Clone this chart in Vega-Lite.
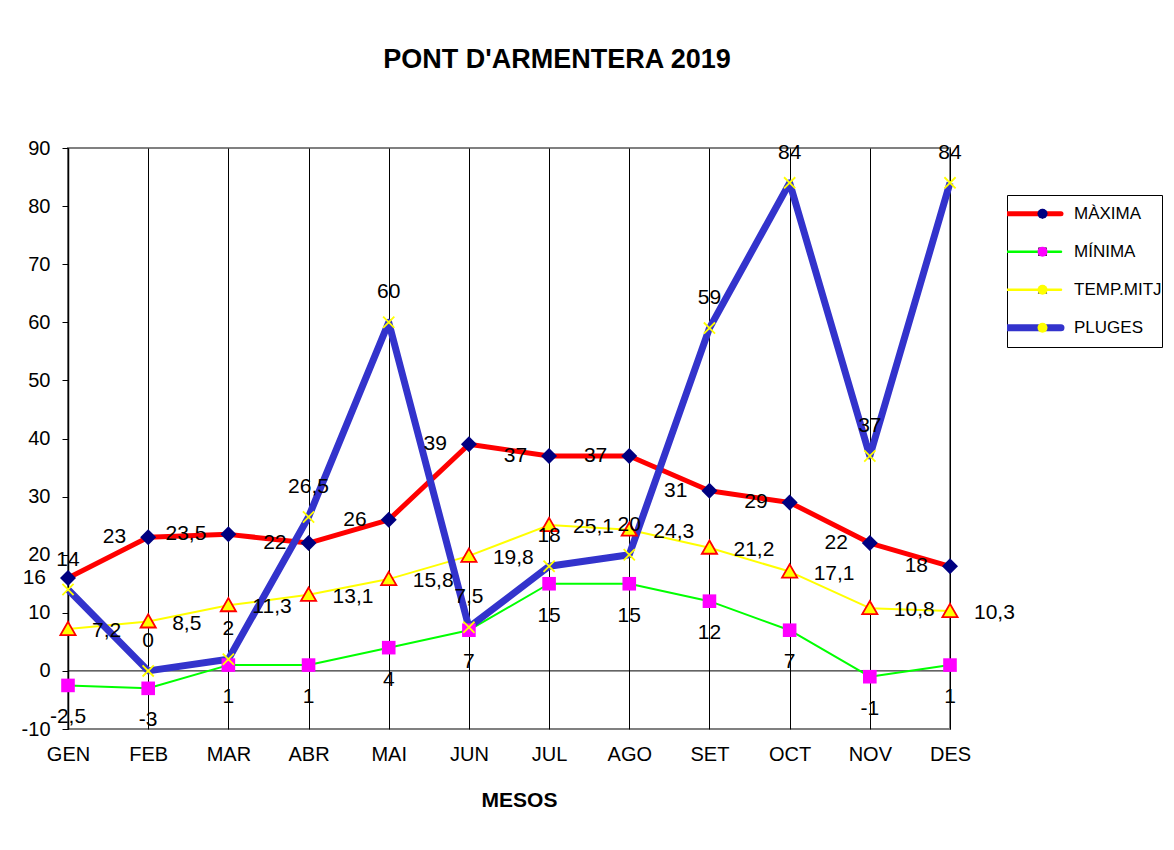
{
  "$schema": "https://vega.github.io/schema/vega-lite/v6.json",
  "width": 882,
  "height": 581,
  "autosize": "none",
  "padding": {"left": 68, "top": 148, "right": 224, "bottom": 121},
  "background": "white",
  "title": {"text": "PONT D'ARMENTERA 2019", "fontSize": 27, "fontWeight": "bold", "font": "Liberation Sans", "color": "black", "anchor": "middle", "dx": 48, "offset": 64},
  "data": {"values": [
    {"mes": "GEN", "serie": "MÀXIMA", "mk": "MÀXIMA", "v": 16},
    {"mes": "FEB", "serie": "MÀXIMA", "mk": "MÀXIMA", "v": 23},
    {"mes": "MAR", "serie": "MÀXIMA", "mk": "MÀXIMA", "v": 23.5},
    {"mes": "ABR", "serie": "MÀXIMA", "mk": "MÀXIMA", "v": 22},
    {"mes": "MAI", "serie": "MÀXIMA", "mk": "MÀXIMA", "v": 26},
    {"mes": "JUN", "serie": "MÀXIMA", "mk": "MÀXIMA", "v": 39},
    {"mes": "JUL", "serie": "MÀXIMA", "mk": "MÀXIMA", "v": 37},
    {"mes": "AGO", "serie": "MÀXIMA", "mk": "MÀXIMA", "v": 37},
    {"mes": "SET", "serie": "MÀXIMA", "mk": "MÀXIMA", "v": 31},
    {"mes": "OCT", "serie": "MÀXIMA", "mk": "MÀXIMA", "v": 29},
    {"mes": "NOV", "serie": "MÀXIMA", "mk": "MÀXIMA", "v": 22},
    {"mes": "DES", "serie": "MÀXIMA", "mk": "MÀXIMA", "v": 18},
    {"mes": "GEN", "serie": "MÍNIMA", "mk": "MÍNIMA", "v": -2.5},
    {"mes": "FEB", "serie": "MÍNIMA", "mk": "MÍNIMA", "v": -3},
    {"mes": "MAR", "serie": "MÍNIMA", "mk": "MÍNIMA", "v": 1},
    {"mes": "ABR", "serie": "MÍNIMA", "mk": "MÍNIMA", "v": 1},
    {"mes": "MAI", "serie": "MÍNIMA", "mk": "MÍNIMA", "v": 4},
    {"mes": "JUN", "serie": "MÍNIMA", "mk": "MÍNIMA", "v": 7},
    {"mes": "JUL", "serie": "MÍNIMA", "mk": "MÍNIMA", "v": 15},
    {"mes": "AGO", "serie": "MÍNIMA", "mk": "MÍNIMA", "v": 15},
    {"mes": "SET", "serie": "MÍNIMA", "mk": "MÍNIMA", "v": 12},
    {"mes": "OCT", "serie": "MÍNIMA", "mk": "MÍNIMA", "v": 7},
    {"mes": "NOV", "serie": "MÍNIMA", "mk": "MÍNIMA", "v": -1},
    {"mes": "DES", "serie": "MÍNIMA", "mk": "MÍNIMA", "v": 1},
    {"mes": "GEN", "serie": "TEMP.MITJ", "mk": "TEMP.MITJ", "v": 7.2},
    {"mes": "FEB", "serie": "TEMP.MITJ", "mk": "TEMP.MITJ", "v": 8.5},
    {"mes": "MAR", "serie": "TEMP.MITJ", "mk": "TEMP.MITJ", "v": 11.3},
    {"mes": "ABR", "serie": "TEMP.MITJ", "mk": "TEMP.MITJ", "v": 13.1},
    {"mes": "MAI", "serie": "TEMP.MITJ", "mk": "TEMP.MITJ", "v": 15.8},
    {"mes": "JUN", "serie": "TEMP.MITJ", "mk": "TEMP.MITJ", "v": 19.8},
    {"mes": "JUL", "serie": "TEMP.MITJ", "mk": "TEMP.MITJ", "v": 25.1},
    {"mes": "AGO", "serie": "TEMP.MITJ", "mk": "TEMP.MITJ", "v": 24.3},
    {"mes": "SET", "serie": "TEMP.MITJ", "mk": "TEMP.MITJ", "v": 21.2},
    {"mes": "OCT", "serie": "TEMP.MITJ", "mk": "TEMP.MITJ", "v": 17.1},
    {"mes": "NOV", "serie": "TEMP.MITJ", "mk": "TEMP.MITJ", "v": 10.8},
    {"mes": "DES", "serie": "TEMP.MITJ", "mk": "TEMP.MITJ", "v": 10.3},
    {"mes": "GEN", "serie": "PLUGES", "mk": "PLUGES", "v": 14},
    {"mes": "FEB", "serie": "PLUGES", "mk": "PLUGES", "v": 0},
    {"mes": "MAR", "serie": "PLUGES", "mk": "PLUGES", "v": 2},
    {"mes": "ABR", "serie": "PLUGES", "mk": "PLUGES", "v": 26.5},
    {"mes": "MAI", "serie": "PLUGES", "mk": "PLUGES", "v": 60},
    {"mes": "JUN", "serie": "PLUGES", "mk": "PLUGES", "v": 7.5},
    {"mes": "JUL", "serie": "PLUGES", "mk": "PLUGES", "v": 18},
    {"mes": "AGO", "serie": "PLUGES", "mk": "PLUGES", "v": 20},
    {"mes": "SET", "serie": "PLUGES", "mk": "PLUGES", "v": 59},
    {"mes": "OCT", "serie": "PLUGES", "mk": "PLUGES", "v": 84},
    {"mes": "NOV", "serie": "PLUGES", "mk": "PLUGES", "v": 37},
    {"mes": "DES", "serie": "PLUGES", "mk": "PLUGES", "v": 84}
  ]},
  "layer": [
    {
      "data": {"values": [{"z": 0}]},
      "mark": {"type": "rule", "color": "black", "strokeWidth": 1},
      "encoding": {"y": {"field": "z", "type": "quantitative"}}
    },
    {
      "mark": {"type": "line", "strokeJoin": "round", "strokeCap": "butt"},
      "encoding": {
        "x": {"field": "mes", "type": "ordinal",
          "scale": {"type": "point", "padding": 0, "domain": ["GEN","FEB","MAR","ABR","MAI","JUN","JUL","AGO","SET","OCT","NOV","DES"]},
          "axis": {"title": "MESOS", "grid": true, "gridColor": "#000000", "gridWidth": 1, "domain": false, "ticks": false, "labelAngle": 0, "labelFontSize": 20, "labelPadding": 15, "labelColor": "black", "labelFont": "Liberation Sans", "titleFont": "Liberation Sans", "titleFontSize": 21, "titleFontWeight": "bold", "titleColor": "black", "titleX": 451, "titleY": 71, "titleBaseline": "middle", "titleAnchor": null}},
        "y": {"field": "v", "type": "quantitative",
          "scale": {"domain": [-10, 90], "nice": false, "zero": false},
          "axis": {"title": null, "values": [-10,0,10,20,30,40,50,60,70,80,90], "format": "d", "grid": false, "domainColor": "black", "domainWidth": 1.5, "tickColor": "black", "tickSize": 6, "labelFontSize": 20, "labelPadding": 12, "labelColor": "black", "labelFont": "Liberation Sans"}},
        "stroke": {"field": "serie", "type": "nominal", "sort": ["MÀXIMA","MÍNIMA","TEMP.MITJ","PLUGES"],
          "scale": {"range": ["#FF0000", "#00FF00", "#FFFF00", "#3333CC"]},
          "legend": {"orient": "none", "legendX": 939, "legendY": 47, "title": null, "columns": 1, "symbolType": "M-2,0H2", "symbolSize": 756, "symbolStrokeWidth": 1.5, "strokeColor": "black", "fillColor": "transparent", "padding": 0, "symbolOffset": 18, "labelOffset": 32, "clipHeight": 37.5, "rowPadding": 0, "labelFontSize": 17, "labelFont": "Liberation Sans", "labelColor": "black", "zindex": 0,
            "encode": {"symbols": {"update": {"strokeWidth": {"signal": "datum.value === 'PLUGES' ? 7 : datum.value === 'MÀXIMA' ? 5 : 2.5"}, "strokeCap": {"value": "round"}, "opacity": {"value": 1}}}}}},
        "strokeWidth": {"condition": [{"test": "datum.serie === 'PLUGES'", "value": 7}, {"test": "datum.serie === 'MÀXIMA'", "value": 5}], "value": 2}
      }
    },
    {
      "mark": {"type": "point", "filled": true, "size": 256, "strokeWidth": 1.8, "opacity": 1},
      "encoding": {
        "x": {"field": "mes", "type": "ordinal"},
        "y": {"field": "v", "type": "quantitative"},
        "fill": {"field": "mk", "type": "nominal", "sort": ["MÀXIMA","MÍNIMA","TEMP.MITJ","PLUGES"],
          "scale": {"range": ["#000080", "#FF00FF", "#FFFF00", "#FFFF00"]},
          "legend": {"orient": "none", "legendX": 966, "legendY": 47, "title": null, "columns": 1, "symbolSize": 100, "padding": 0, "symbolOffset": 0, "clipHeight": 37.5, "rowPadding": 0, "labelFontSize": 17, "labelExpr": "''", "labelOpacity": 0, "strokeColor": "transparent", "fillColor": "transparent", "zindex": 1,
            "encode": {"symbols": {"update": {"stroke": {"signal": "datum.value === 'TEMP.MITJ' ? '#FF0000' : datum.value === 'PLUGES' ? '#FFFF00' : 'transparent'"}, "strokeWidth": {"value": 1.5}, "opacity": {"value": 1}}}}}},
        "shape": {"field": "mk", "type": "nominal", "sort": ["MÀXIMA","MÍNIMA","TEMP.MITJ","PLUGES"],
          "scale": {"range": ["M0,-1L1,0L0,1L-1,0Z", "M-0.85,-0.85H0.85V0.85H-0.85Z", "M0,-0.9L0.95,0.75H-0.95Z", "M-0.7,-0.7L0.7,0.7M-0.7,0.7L0.7,-0.7"]},
          "legend": {"orient": "none", "legendX": 966, "legendY": 47, "title": null, "columns": 1, "symbolSize": 100, "padding": 0, "symbolOffset": 0, "clipHeight": 37.5, "rowPadding": 0, "labelFontSize": 17, "labelExpr": "''", "labelOpacity": 0, "strokeColor": "transparent", "fillColor": "transparent", "zindex": 1,
            "encode": {"symbols": {"update": {"stroke": {"signal": "datum.value === 'TEMP.MITJ' ? '#FF0000' : datum.value === 'PLUGES' ? '#FFFF00' : 'transparent'"}, "strokeWidth": {"value": 1.5}, "opacity": {"value": 1}}}}}},
        "stroke": {"condition": [{"test": "datum.mk === 'TEMP.MITJ'", "value": "#FF0000"}, {"test": "datum.mk === 'PLUGES'", "value": "#FFFF00"}], "value": "transparent"}
      }
    },
    {
      "transform": [{"filter": {"field": "serie", "equal": "MÀXIMA"}}],
      "mark": {"type": "text", "align": "right", "baseline": "middle", "dx": -22, "dy": 0, "fontSize": 21, "font": "Liberation Sans", "color": "black"},
      "encoding": {
        "x": {"field": "mes", "type": "ordinal"},
        "y": {"field": "v", "type": "quantitative"},
        "text": {"field": "v", "type": "quantitative", "format": ".1~f"}
      }
    },
    {
      "transform": [{"filter": {"field": "serie", "equal": "MÍNIMA"}}],
      "mark": {"type": "text", "align": "center", "baseline": "middle", "dy": 32, "fontSize": 21, "font": "Liberation Sans", "color": "black"},
      "encoding": {
        "x": {"field": "mes", "type": "ordinal"},
        "y": {"field": "v", "type": "quantitative"},
        "text": {"field": "v", "type": "quantitative", "format": ".1~f"}
      }
    },
    {
      "transform": [{"filter": {"field": "serie", "equal": "TEMP.MITJ"}}],
      "mark": {"type": "text", "align": "left", "baseline": "middle", "dx": 24, "dy": 2, "fontSize": 21, "font": "Liberation Sans", "color": "black"},
      "encoding": {
        "x": {"field": "mes", "type": "ordinal"},
        "y": {"field": "v", "type": "quantitative"},
        "text": {"field": "v", "type": "quantitative", "format": ".1~f"}
      }
    },
    {
      "transform": [{"filter": {"field": "serie", "equal": "PLUGES"}}],
      "mark": {"type": "text", "align": "center", "baseline": "middle", "dy": -30, "fontSize": 21, "font": "Liberation Sans", "color": "black"},
      "encoding": {
        "x": {"field": "mes", "type": "ordinal"},
        "y": {"field": "v", "type": "quantitative"},
        "text": {"field": "v", "type": "quantitative", "format": ".1~f"}
      }
    }
  ],
  "config": {
    "locale": {"number": {"decimal": ",", "thousands": ".", "grouping": [3], "currency": ["", " €"], "minus": "-"}},
    "font": "Liberation Sans",
    "view": {"stroke": "#808080", "strokeWidth": 2},
    "legend": {"labelFont": "Liberation Sans"}
  }
}
